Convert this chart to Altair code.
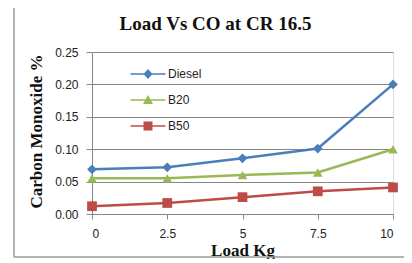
import altair as alt
import pandas as pd

loads = [0, 2.5, 5, 7.5, 10]
diesel = [0.069, 0.072, 0.086, 0.101, 0.200]
b20 = [0.055, 0.055, 0.060, 0.064, 0.100]
b50 = [0.012, 0.017, 0.026, 0.035, 0.041]
series = ["Diesel", "B20", "B50"]
colors = ["#4a7ebb", "#98b954", "#be4b48"]
shapes = ["diamond", "triangle-up", "square"]

# legend glyphs: line segment with the series marker in the middle
seg = "M-3.5,-0.13H3.5V0.13H-3.5Z"
legend_shapes = [seg + "M0,-1L0.9,0L0,1L-0.9,0Z",
                 seg + "M0,-1L1,0.8L-1,0.8Z",
                 seg + "M-0.9,-0.9H0.9V0.9H-0.9Z"]

rows = []
for name, vals in zip(series, [diesel, b20, b50]):
    for x, y in zip(loads, vals):
        rows.append({"Load": x, "CO": y, "Fuel": name})
df = pd.DataFrame(rows)

W, H = 301, 162

x = alt.X("Load:Q", scale=alt.Scale(domain=[0, 10], nice=False),
          axis=alt.Axis(values=loads, title="Load Kg", grid=False, tickSize=5,
                        labelPadding=9, domainColor="#868686", tickColor="#868686",
                        labelFont="Liberation Sans", labelFontSize=12, labelColor="#222",
                        labelExpr="datum.value == 2.5 ? '2.5' : datum.value == 7.5 ? '7.5' : datum.label",
                        titleFont="Liberation Serif", titleFontSize=17, titleFontWeight="bold",
                        titlePadding=3, titleColor="#111"))
y = alt.Y("CO:Q", scale=alt.Scale(domain=[0, 0.25], nice=False),
          axis=alt.Axis(values=[0, 0.05, 0.1, 0.15, 0.2, 0.25], title="Carbon Monoxide %",
                        grid=True, gridColor="#868686", gridWidth=1, tickSize=6,
                        labelPadding=8, domainColor="#868686", tickColor="#868686",
                        labelFont="Liberation Sans", labelFontSize=12, labelColor="#222",
                        titleFont="Liberation Serif", titleFontSize=17, titleFontWeight="bold",
                        titleColor="#111", titleX=-47, titleY=79))

color_plain = alt.Color("Fuel:N", scale=alt.Scale(domain=series, range=colors), sort=series, legend=None)

lines = alt.Chart(df).mark_line(strokeWidth=2.5).encode(x=x, y=y, color=color_plain)
points = alt.Chart(df).mark_point(filled=True, size=95, opacity=1).encode(
    x=x, y=y, color=color_plain,
    shape=alt.Shape("Fuel:N", scale=alt.Scale(domain=series, range=shapes), sort=series, legend=None))

leg = alt.Legend(orient="none", legendX=50, legendY=16, title=None,
                 rowPadding=14, labelFont="Liberation Sans", labelFontSize=12,
                 labelColor="#222", symbolSize=100, symbolStrokeWidth=0, labelOffset=14)
legend_layer = alt.Chart(df).transform_filter("datum.CO < 0").mark_point(
    filled=True, size=100, opacity=1).encode(
    x=x, y=y,
    color=alt.Color("Fuel:N", scale=alt.Scale(domain=series, range=colors), sort=series, legend=leg),
    shape=alt.Shape("Fuel:N", scale=alt.Scale(domain=series, range=legend_shapes), sort=series, legend=leg))

one = pd.DataFrame({"a": [0]})
frame_v = alt.Chart(one).mark_rule(color="#9a9a9a", strokeWidth=1.5).encode(
    x=alt.value(-78), y=alt.value(-47), y2=alt.value(205))
frame_t = alt.Chart(one).mark_rule(color="#9a9a9a", strokeWidth=1.5).encode(
    x=alt.value(-78), x2=alt.value(330), y=alt.value(-47))
frame_b = alt.Chart(one).mark_rule(color="#9a9a9a", strokeWidth=1.5).encode(
    x=alt.value(-78), x2=alt.value(330), y=alt.value(205))

chart = alt.layer(frame_v, frame_t, frame_b, lines, points, legend_layer).resolve_scale(
    shape="independent", color="independent"
).properties(
    width=W, height=H,
    title=alt.TitleParams("Load Vs CO at CR 16.5", font="Liberation Serif", fontSize=19,
                          fontWeight="bold", color="#111", anchor="middle", offset=-30, dx=-27),
    autosize="none",
    padding={"left": 84, "top": 44, "right": 11, "bottom": 45},
).configure_view(stroke=None).configure(background="white")

chart.save("out.html", embed_options={"renderer": "svg", "actions": False})
